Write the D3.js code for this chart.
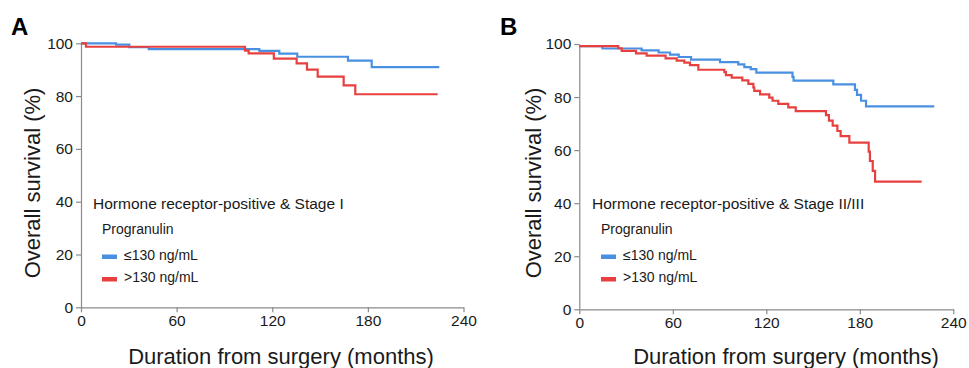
<!DOCTYPE html>
<html>
<head>
<meta charset="utf-8">
<script src="https://cdn.jsdelivr.net/npm/d3@7"></script>
<style>
  body { margin: 0; background: #fff; }
  svg { display: block; font-family: Arial, "Liberation Sans", Helvetica, sans-serif; }
</style>
</head>
<body>
<script>
// x ticks / y ticks
const xTicks = [0, 60, 120, 180, 240];
const yTicks = [0, 20, 40, 60, 80, 100];

// panel A: Stage I  [months, survival %]
const stageI_low = [[0, 100], [22, 99.5], [30.3, 98.5], [42.5, 97.8], [111.9, 97.1], [124.4, 96.1],
  [135.7, 94.9], [167.5, 93.4], [182.4, 91.0], [224.8, 91.0]];
const stageI_high = [[0, 100], [3.1, 98.7], [102.9, 97.2], [105.2, 96.2], [121, 94.2], [135.3, 92.4],
  [141.8, 90.0], [148.5, 87.4], [164.8, 84.1], [172.1, 80.7], [223.8, 80.7]];

// panel B: Stage II/III
const stageII_low = [[0, 99.2], [14.8, 98.3], [40, 97.6], [50.9, 96.8], [58.2, 96.0], [63.8, 95.1],
  [71.7, 94.1], [90.3, 93.2], [102, 92.3], [105.9, 91.3], [110, 90.5], [113.6, 89.2], [136.8, 87.6],
  [137.5, 86.2], [163, 84.8], [176.9, 82.7], [178.2, 80.8], [180.8, 78.6], [184, 76.5], [227.8, 76.5]];
const stageII_high = [[0, 99.2], [25, 98.4], [27.2, 97.4], [36.4, 96.5], [43.2, 95.6], [55.4, 94.6],
  [62.5, 93.7], [67.4, 93.0], [71, 92.0], [76.4, 90.3], [93.1, 89.4], [94.1, 88.3], [97.8, 87.3],
  [104.6, 86.3], [108.5, 85.0], [111.7, 83.6], [112.3, 82.3], [116, 81.0], [121.9, 79.8], [124, 78.6],
  [127.7, 77.4], [134.1, 76.1], [138.9, 74.7], [158.3, 73.2], [160.2, 71.1], [162.6, 69.2],
  [165.6, 67.2], [167.7, 65.3], [173.3, 62.8], [185.7, 59.4], [186.5, 55.9], [188.3, 52.2],
  [189.8, 48.1], [219.7, 48.1]];

const seriesNames = ["\u2264130 ng/mL", ">130 ng/mL"];
const colors = ["#4a90e2", "#e8403f"];

const svg = d3.select("body").append("svg")
    .attr("width", 969)
    .attr("height", 368);

function panel(opt) {
  const x = d3.scaleLinear().domain([0, 240]).range(opt.xr);
  const y = d3.scaleLinear().domain([0, 100]).range(opt.yr);
  const g = svg.append("g");

  const xAxis = g.append("g")
      .attr("transform", "translate(0," + opt.yr[0] + ")")
      .call(d3.axisBottom(x).tickValues(xTicks).tickSize(5).tickSizeOuter(0).tickPadding(3));
  const yAxis = g.append("g")
      .attr("transform", "translate(" + opt.xr[0] + ",0)")
      .call(d3.axisLeft(y).tickValues(yTicks).tickSize(5).tickSizeOuter(0).tickPadding(3));
  [xAxis, yAxis].forEach(function(a) {
    a.selectAll("path, line").attr("stroke", "#8a8a8a").attr("stroke-width", 1.2);
    a.selectAll("text").attr("fill", "#1a1a1a").style("font-size", "15.5px").style("font-family", "Arial, 'Liberation Sans', sans-serif");
  });

  const line = d3.line()
      .x(function(d) { return x(d[0]); })
      .y(function(d) { return y(d[1]); })
      .curve(d3.curveStepAfter);

  opt.data.forEach(function(s, i) {
    g.append("path")
        .datum(s)
        .attr("fill", "none")
        .attr("stroke", colors[i])
        .attr("stroke-width", 2.2)
        .attr("d", line);
  });

  // panel letter
  g.append("text")
      .attr("x", opt.letterX).attr("y", 35)
      .style("font-size", "24px").style("font-weight", "bold")
      .text(opt.letter);

  // axis titles
  g.append("text")
      .attr("x", opt.xtX).attr("y", 364)
      .attr("text-anchor", "middle")
      .style("font-size", "22px").attr("fill", "#1a1a1a")
      .text("Duration from surgery (months)");
  g.append("text")
      .attr("transform", "translate(" + opt.ytX + "," + opt.ytY + ") rotate(-90)")
      .attr("text-anchor", "middle")
      .style("font-size", "22px").attr("fill", "#1a1a1a")
      .text("Overall survival (%)");

  // legend
  const lg = g.append("g");
  lg.append("text")
      .attr("x", opt.lgX).attr("y", 208.5)
      .style("font-size", "15.5px").attr("fill", "#1a1a1a")
      .text(opt.title);
  lg.append("text")
      .attr("x", opt.lgX + 9).attr("y", 234)
      .style("font-size", "14px").attr("fill", "#1a1a1a")
      .text("Progranulin");
  seriesNames.forEach(function(n, i) {
    const yy = 259.5 + i * 22.5;
    lg.append("rect")
        .attr("x", opt.lgX + 9).attr("y", yy - 5)
        .attr("width", 15).attr("height", 4.5)
        .attr("fill", colors[i]);
    lg.append("text")
        .attr("x", opt.lgX + 31).attr("y", yy)
        .style("font-size", "14px").attr("fill", "#1a1a1a")
        .text(n);
  });
}

panel({
  xr: [81, 463.5], yr: [307.3, 43.3],
  data: [stageI_low, stageI_high],
  letter: "A", letterX: 11,
  xtX: 281, ytX: 40, ytY: 183,
  lgX: 93, title: "Hormone receptor-positive & Stage I"
});

panel({
  xr: [579.3, 953.3], yr: [309.3, 44],
  data: [stageII_low, stageII_high],
  letter: "B", letterX: 500,
  xtX: 786, ytX: 541, ytY: 183,
  lgX: 592, title: "Hormone receptor-positive & Stage II/III"
});
</script>
</body>
</html>
